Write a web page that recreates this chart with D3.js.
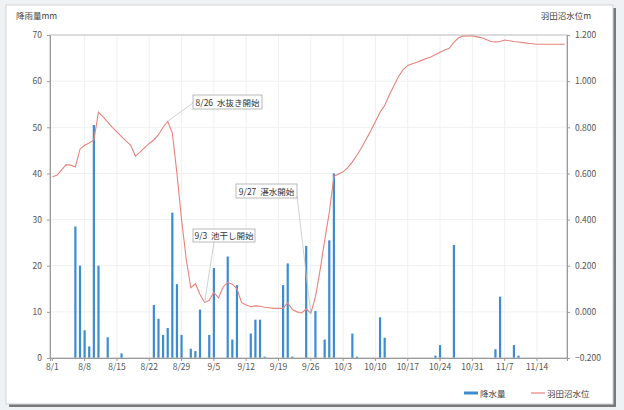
<!DOCTYPE html>
<html><head><meta charset="utf-8">
<script src="https://cdn.jsdelivr.net/npm/d3@7"></script>
<style>
html,body{margin:0;padding:0;background:#eef2f5;}
svg{display:block;font-family:"Noto Sans CJK JP","Noto Sans",sans-serif;}
</style></head>
<body>
<svg id="c" width="624" height="410"></svg>
<script>
// Daily rainfall (mm), 8/1 .. 11/20
const rainfall = [
  0,0,0,0,0,28.5,20,6,2.5,50.5,
  20,0,4.5,0,0,1,0,0,0,0,
  0,0,11.5,8.5,5,6.5,31.5,16,5,0,
  2,1.5,10.5,0,5,19.5,0,0,22,4,
  15.8,0,0,5.3,8.3,8.3,0.3,0,0,0,
  15.8,20.5,0.3,0,0,24.3,0,10.2,0,4,
  25.5,40,0,0,0,5.3,0.3,0,0,0,
  0,8.8,4.4,0,0,0,0,0,0,0,
  0,0,0,0.5,2.8,0,0,24.5,0,0,
  0,0,0,0,0,0,1.9,13.3,0,0,
  2.8,0.5,0,0,0,0,0,0,0,0,0,0
];
// Daily pond water level (m)
const waterLevel = [
  0.586,0.592,0.615,0.638,0.636,0.628,0.705,0.722,0.732,0.745,
  0.866,0.845,0.822,0.800,0.780,0.760,0.740,0.722,0.675,0.692,
  0.712,0.730,0.745,0.768,0.800,0.826,0.775,0.600,0.400,0.230,
  0.105,0.122,0.075,0.040,0.050,0.085,0.060,0.108,0.128,0.120,
  0.100,0.040,0.030,0.022,0.026,0.024,0.020,0.018,0.015,0.015,
  0.016,0.040,0.010,0.000,-0.005,0.012,-0.006,0.065,0.180,0.310,
  0.430,0.588,0.598,0.607,0.625,0.650,0.680,0.712,0.748,0.785,
  0.825,0.865,0.895,0.940,0.980,1.020,1.050,1.068,1.075,1.082,
  1.090,1.098,1.105,1.115,1.125,1.135,1.142,1.168,1.188,1.195,
  1.196,1.196,1.192,1.188,1.180,1.172,1.170,1.172,1.178,1.175,
  1.172,1.170,1.167,1.164,1.162,1.160,1.160,1.160,1.160,1.160,1.160,1.160
];
const fmt = d3.timeFormat("%-m/%-d");
const categories = d3.timeDay.range(new Date(2013,7,1), new Date(2013,10,21)).map(fmt);
const xTickLabels = ["8/1","8/8","8/15","8/22","8/29","9/5","9/12","9/19","9/26","10/3","10/10","10/17","10/24","10/31","11/7","11/14"];
const leftTicks = [0,10,20,30,40,50,60,70];
const rightTicks = [-0.2,0,0.2,0.4,0.6,0.8,1.0,1.2];
const annotations = [
  {text:"8/26  水抜き開始", date:"8/26"},
  {text:"9/3  池干し開始", date:"9/3"},
  {text:"9/27  湛水開始", date:"9/26"}
];
const seriesNames = ["降水量","羽田沼水位"];

const svg = d3.select("#c");
const L=50, R=567, T=35, B=358;
const BLUE="#3d8ccf", RED="#e9837b";

// card
svg.append("rect").attr("x",9).attr("y",8).attr("width",607).attr("height",399).attr("fill","#7a7a7a");
svg.append("rect").attr("x",6).attr("y",5).attr("width",607).attr("height",399).attr("fill","#fff").attr("stroke","#cfd3d6");

const x = d3.scaleBand().domain(categories).range([L,R]).padding(0);
const yL = d3.scaleLinear().domain([0,70]).range([B,T]);
const yR = d3.scaleLinear().domain([-0.2,1.2]).range([B,T]);
const cx = c => x(c) + x.bandwidth()/2;

// gridlines
svg.append("g").selectAll("line").data(leftTicks.slice(1,-1)).join("line")
  .attr("x1",L).attr("x2",R).attr("y1",d=>yL(d)).attr("y2",d=>yL(d))
  .attr("stroke","#eef0f2");
svg.append("g").selectAll("line").data(xTickLabels.slice(1)).join("line")
  .attr("x1",d=>cx(d)).attr("x2",d=>cx(d)).attr("y1",T).attr("y2",B)
  .attr("stroke","#eef0f2");

// bars
svg.append("g").selectAll("rect").data(rainfall.map((v,i)=>({c:categories[i],v}))).join("rect")
  .filter(d=>d.v>0)
  .attr("x",d=>cx(d.c)-1.1).attr("width",2.2)
  .attr("y",d=>yL(d.v)).attr("height",d=>B-yL(d.v))
  .attr("fill",BLUE);

// line
svg.append("path").datum(waterLevel.map((v,i)=>({c:categories[i],v})))
  .attr("fill","none").attr("stroke",RED).attr("stroke-width",1.1)
  .attr("d",d3.line().x(d=>cx(d.c)).y(d=>yR(d.v)));

// frame
svg.append("rect").attr("x",L).attr("y",T).attr("width",R-L).attr("height",B-T)
  .attr("fill","none").attr("stroke","#b9b9b9");

// axes
const ax = svg.append("g").attr("transform",`translate(0,${B})`)
  .call(d3.axisBottom(x).tickValues(xTickLabels).tickSize(3).tickPadding(3));
const ayl = svg.append("g").attr("transform",`translate(${L},0)`)
  .call(d3.axisLeft(yL).tickValues(leftTicks).tickSize(3).tickPadding(5).tickFormat(d3.format("d")));
const ayr = svg.append("g").attr("transform",`translate(${R},0)`)
  .call(d3.axisRight(yR).tickValues(rightTicks).tickSize(3).tickPadding(5).tickFormat(d3.format(".3f")));
[ax,ayl,ayr].forEach(g=>{
  g.select(".domain").attr("stroke","#9a9a9a");
  g.selectAll(".tick line").attr("stroke","#9a9a9a");
  g.selectAll("text").attr("fill","#555").attr("font-size",8.5)
   .attr("font-family","\"Noto Sans CJK JP\",\"Noto Sans\",sans-serif");
});

// axis titles
svg.append("text").attr("x",16).attr("y",19).attr("font-size",8.5).attr("fill","#444").text("降雨量mm");
svg.append("text").attr("x",591).attr("y",19).attr("text-anchor","end").attr("font-size",8.5).attr("fill","#444").text("羽田沼水位m");

// annotations
const annoBoxes = [
  {x0:193,y0:95,x1:262,y1:109, lx:193, ly:103, ty:119},
  {x0:193,y0:229,x1:255,y1:242, lx:214, ly:242, ty:300},
  {x0:236,y0:184,x1:297,y1:198, lx:297, ly:196, ty:305}
];
annotations.forEach((a,i)=>{
  const b = annoBoxes[i];
  const tx = cx(a.date);
  const lev = waterLevel[categories.indexOf(a.date)];
  svg.append("line").attr("x1",b.lx).attr("y1",b.ly).attr("x2",tx).attr("y2",yR(lev))
    .attr("stroke","#c4c4c4").attr("stroke-width",0.8);
  svg.append("rect").attr("x",b.x0).attr("y",b.y0).attr("width",b.x1-b.x0).attr("height",b.y1-b.y0)
    .attr("fill","#fff").attr("stroke","#a9a9a9").attr("stroke-width",0.8);
  svg.append("text").attr("x",(b.x0+b.x1)/2).attr("y",b.y1-3.5).attr("text-anchor","middle")
    .attr("font-size",8.5).attr("fill","#333").attr("xml:space","preserve").text(a.text);
});

// legend
const lg = svg.append("g");
lg.append("line").attr("x1",464).attr("x2",478).attr("y1",393).attr("y2",393).attr("stroke",BLUE).attr("stroke-width",3);
lg.append("text").attr("x",480).attr("y",396.5).attr("font-size",8.5).attr("fill","#444").text(seriesNames[0]);
lg.append("line").attr("x1",531).attr("x2",545).attr("y1",393).attr("y2",393).attr("stroke",RED).attr("stroke-width",1.2);
lg.append("text").attr("x",547).attr("y",396.5).attr("font-size",8.5).attr("fill","#444").text(seriesNames[1]);
</script>
</body></html>
